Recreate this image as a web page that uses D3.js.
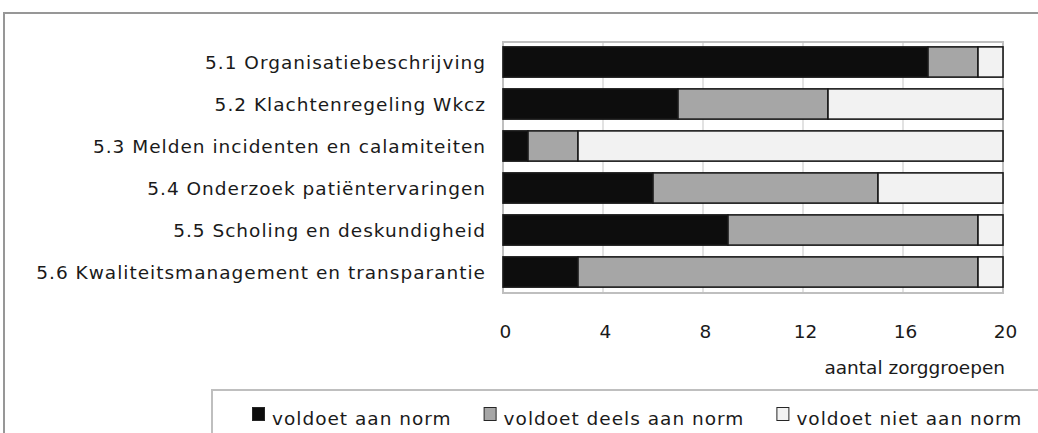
<!DOCTYPE html>
<html>
<head>
<meta charset="utf-8">
<script src="https://cdn.jsdelivr.net/npm/d3@7"></script>
<style>
  html, body { margin: 0; padding: 0; background: #fff; }
  svg { display: block; font-family: "DejaVu Sans", Verdana, sans-serif; }
</style>
</head>
<body>
<svg id="chart" width="1038" height="433"></svg>
<script>
const categories = [
  "5.1 Organisatiebeschrijving",
  "5.2 Klachtenregeling Wkcz",
  "5.3 Melden incidenten en calamiteiten",
  "5.4 Onderzoek patiëntervaringen",
  "5.5 Scholing en deskundigheid",
  "5.6 Kwaliteitsmanagement en transparantie"
];
const seriesNames = ["voldoet aan norm", "voldoet deels aan norm", "voldoet niet aan norm"];
const voldoet = [17, 7, 1, 6, 9, 3];
const deels   = [2, 6, 2, 9, 10, 16];
const niet    = [1, 7, 17, 5, 1, 1];
const xTicks = [0, 4, 8, 12, 16, 20];
const xTitle = "aantal zorggroepen";
const colors = ["#0d0d0d", "#a6a6a6", "#f2f2f2"];

const svg = d3.select("#chart");
const fontSize = 18.5;
const spacing = 1;

// outer frame
svg.append("line").attr("x1", 4).attr("x2", 1038).attr("y1", 13).attr("y2", 13)
  .attr("stroke", "#979797").attr("stroke-width", 2);
svg.append("line").attr("x1", 4).attr("x2", 4).attr("y1", 12).attr("y2", 433)
  .attr("stroke", "#979797").attr("stroke-width", 2);

const x = d3.scaleLinear().domain([0, 20]).range([503, 1003]);
const y = d3.scaleBand().domain(categories).range([41, 293]).paddingInner(0.28).paddingOuter(0.14);

// gridlines
const gx = svg.append("g");
gx.selectAll("line").data(xTicks.slice(1, -1)).join("line")
  .attr("x1", d => x(d)).attr("x2", d => x(d))
  .attr("y1", 42).attr("y2", 293)
  .attr("stroke", "#d9d9d9").attr("stroke-width", 1.5);

// plot border
svg.append("rect").attr("x", x(0)).attr("y", 42).attr("width", x(20) - x(0)).attr("height", 251)
  .attr("fill", "none").attr("stroke", "#bfbfbf").attr("stroke-width", 2);

// stacked data
const rows = categories.map((c, i) => ({cat: c, v: [voldoet[i], deels[i], niet[i]]}));
const keys = [0, 1, 2];
const stack = d3.stack().keys(keys).value((d, k) => d.v[k]);
const stacked = stack(rows);

svg.append("g").selectAll("g").data(stacked).join("g")
  .attr("fill", (d, i) => colors[i])
  .selectAll("rect").data(d => d).join("rect")
  .attr("x", d => x(d[0]))
  .attr("width", d => x(d[1]) - x(d[0]))
  .attr("y", d => y(d.data.cat))
  .attr("height", y.bandwidth())
  .attr("stroke", "#1a1a1a").attr("stroke-width", 1.6);

// category labels
svg.append("g").selectAll("text").data(categories).join("text")
  .attr("x", 486)
  .attr("y", d => y(d) + y.bandwidth() / 2)
  .attr("dy", "0.36em")
  .attr("text-anchor", "end")
  .attr("font-size", fontSize)
  .attr("letter-spacing", spacing)
  .attr("fill", "#1a1a1a")
  .text(d => d);

// x axis tick labels
const axis = d3.axisBottom(x).tickValues(xTicks).tickSize(0).tickPadding(0);
const ag = svg.append("g").attr("transform", "translate(2,0)").call(axis);
ag.select(".domain").remove();
ag.selectAll("text").attr("y", 338).attr("dy", 0)
  .attr("font-size", fontSize).attr("font-family", "DejaVu Sans")
  .attr("fill", "#1a1a1a");

// axis title
svg.append("text").attr("x", 1005).attr("y", 374).attr("text-anchor", "end")
  .attr("font-size", fontSize).attr("fill", "#1a1a1a").text(xTitle);

// legend frame
svg.append("line").attr("x1", 211).attr("x2", 1038).attr("y1", 390).attr("y2", 390)
  .attr("stroke", "#bfbfbf").attr("stroke-width", 2);
svg.append("line").attr("x1", 212).attr("x2", 212).attr("y1", 389).attr("y2", 433)
  .attr("stroke", "#bfbfbf").attr("stroke-width", 2);

// legend items
let lx = 252;
seriesNames.forEach((name, i) => {
  svg.append("rect").attr("x", lx + 0.5).attr("y", 407.5).attr("width", 12).attr("height", 13)
    .attr("fill", colors[i]).attr("stroke", "#262626").attr("stroke-width", 1);
  const t = svg.append("text").attr("x", lx + 20).attr("y", 425)
    .attr("font-size", fontSize).attr("letter-spacing", spacing)
    .attr("fill", "#1a1a1a").text(name);
  const w = t.node().getComputedTextLength();
  lx = lx + 20 + w + 32;
});
</script>
</body>
</html>
